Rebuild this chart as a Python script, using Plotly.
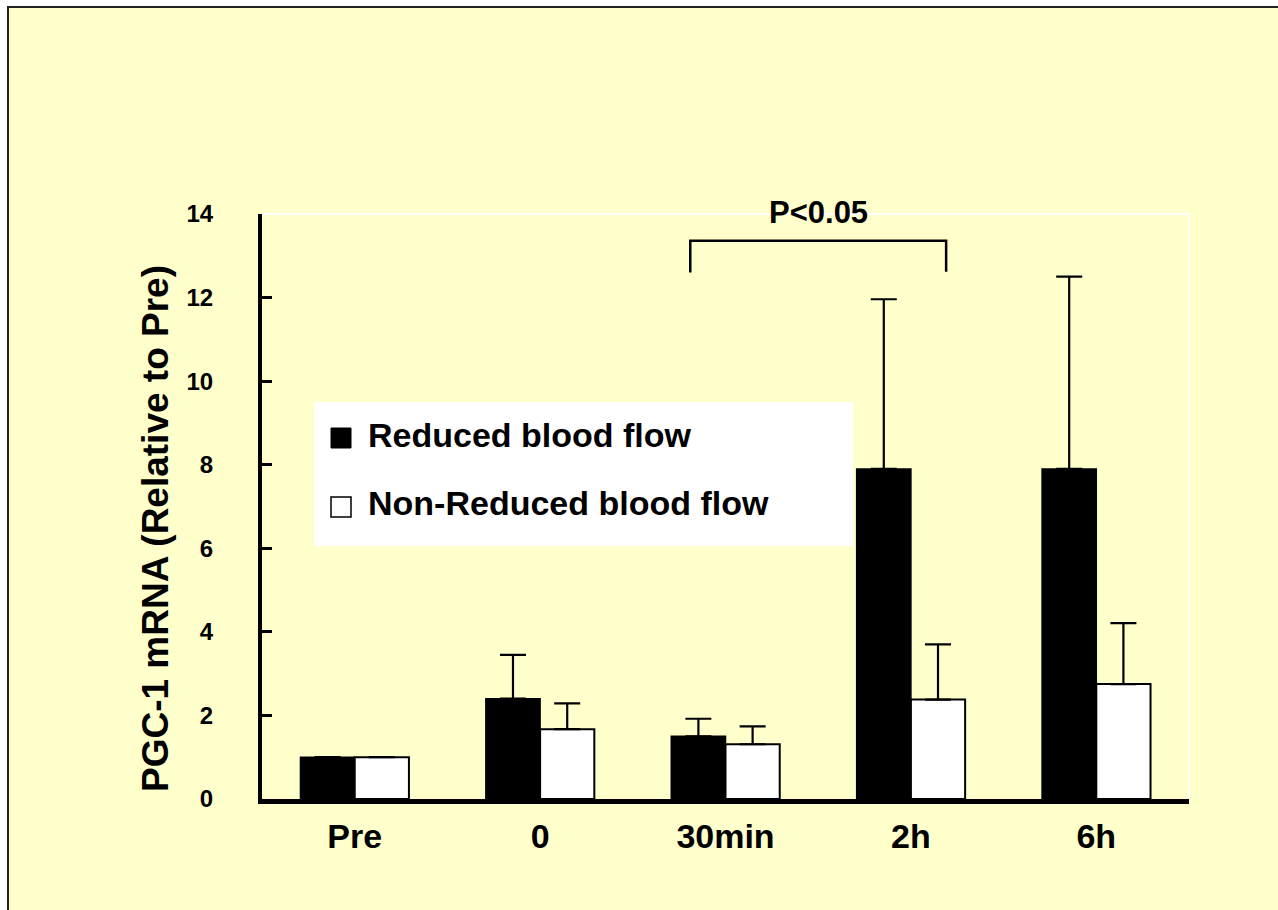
import plotly.graph_objects as go

# Time points and PGC-1 mRNA expression (relative to Pre), mean and upper SD
categories = ["Pre", "0", "30min", "2h", "6h"]
reduced = [1.0, 2.4, 1.5, 7.9, 7.9]
reduced_sd = [None, 1.05, 0.42, 4.06, 4.6]
non_reduced = [1.0, 1.67, 1.31, 2.38, 2.75]
non_reduced_sd = [None, 0.62, 0.43, 1.32, 1.46]
y_ticks = [0, 2, 4, 6, 8, 10, 12, 14]
series_names = ["Reduced blood flow", "Non-Reduced blood flow"]

FONT = "Liberation Sans, Arial, sans-serif"
BG = "#FFFFCC"

W, H = 1278, 910
L, R, T, B = 262, 89, 214, 111
PW, PH = W - L - R, H - T - B


def px_x(p):
    return (p - L) / PW


def px_y(p):
    return (H - B - p) / PH


fig = go.Figure()

fig.add_trace(go.Bar(
    x=categories, y=reduced, name=series_names[0],
    marker=dict(color="black", line=dict(color="black", width=1.5)),
    error_y=dict(type="data", symmetric=False, array=reduced_sd,
                 arrayminus=[0] * len(reduced), color="black",
                 thickness=2.2, width=13),
    showlegend=False,
))
fig.add_trace(go.Bar(
    x=categories, y=non_reduced, name=series_names[1],
    marker=dict(color="white", line=dict(color="black", width=2)),
    error_y=dict(type="data", symmetric=False, array=non_reduced_sd,
                 arrayminus=[0] * len(non_reduced), color="black",
                 thickness=2.2, width=13),
    showlegend=False,
))

shapes = []
# outer frame of the panel
shapes.append(dict(type="rect", xref="paper", yref="paper",
                   x0=px_x(8), x1=px_x(1300), y0=px_y(930), y1=px_y(7),
                   line=dict(color="#222222", width=2), fillcolor=BG,
                   layer="below"))
# thin white edges on top and right of the plotting area
shapes.append(dict(type="line", xref="paper", yref="paper",
                   x0=0, x1=1, y0=1, y1=1,
                   line=dict(color="white", width=2)))
shapes.append(dict(type="line", xref="paper", yref="paper",
                   x0=1, x1=1, y0=0, y1=1,
                   line=dict(color="white", width=2)))
# significance bracket between 30min and 2h
shapes.append(dict(type="path", xref="x", yref="y",
                   path="M 1.81,12.6 L 1.81,13.36 L 3.19,13.36 L 3.19,12.62",
                   line=dict(color="black", width=2.5)))
# legend box
shapes.append(dict(type="rect", xref="paper", yref="paper",
                   x0=px_x(314), x1=px_x(853), y0=px_y(546), y1=px_y(402),
                   line=dict(width=0), fillcolor="white"))
shapes.append(dict(type="rect", xref="paper", yref="paper",
                   x0=px_x(331), x1=px_x(351), y0=px_y(448), y1=px_y(428),
                   line=dict(color="black", width=1), fillcolor="black"))
shapes.append(dict(type="rect", xref="paper", yref="paper",
                   x0=px_x(331), x1=px_x(351), y0=px_y(517), y1=px_y(497),
                   line=dict(color="black", width=1.5), fillcolor="white"))

annotations = [
    dict(text="P<0.05", xref="x", yref="paper", x=2.5, y=px_y(212),
         showarrow=False, xanchor="center", yanchor="middle",
         font=dict(family=FONT, size=31, color="black", weight=700)),
    dict(text=series_names[0], xref="paper", yref="paper",
         x=px_x(366), y=px_y(435), showarrow=False,
         xanchor="left", yanchor="middle",
         font=dict(family=FONT, size=34, color="black", weight=700)),
    dict(text=series_names[1], xref="paper", yref="paper",
         x=px_x(366), y=px_y(503), showarrow=False,
         xanchor="left", yanchor="middle",
         font=dict(family=FONT, size=34, color="black", weight=700)),
    dict(text="PGC-1 mRNA (Relative to Pre)", xref="paper", yref="paper",
         x=px_x(155), y=px_y(529), showarrow=False, textangle=-90,
         xanchor="center", yanchor="middle",
         font=dict(family=FONT, size=37, color="black", weight=700)),
]

fig.update_layout(
    width=W, height=H,
    margin=dict(l=L, r=R, t=T, b=B, pad=0),
    paper_bgcolor="white",
    plot_bgcolor=BG,
    barmode="group",
    bargap=0.415,
    bargroupgap=0,
    shapes=shapes,
    annotations=annotations,
    showlegend=False,
    font=dict(family=FONT, color="black"),
)

fig.update_xaxes(
    type="category", range=[-0.5, 4.5],
    showline=True, linecolor="black", linewidth=5,
    ticks="", showgrid=False, zeroline=False,
    tickfont=dict(family=FONT, size=34, color="black", weight=700),
    ticklabelstandoff=3,
)
fig.update_yaxes(
    range=[0, 14], tickvals=y_ticks,
    showline=True, linecolor="black", linewidth=4,
    ticks="inside", ticklen=10, tickwidth=3, tickcolor="black",
    showgrid=False, zeroline=False,
    tickfont=dict(family=FONT, size=24, color="black", weight=700),
    ticklabelstandoff=40,
)

fig.write_html("out.html")
